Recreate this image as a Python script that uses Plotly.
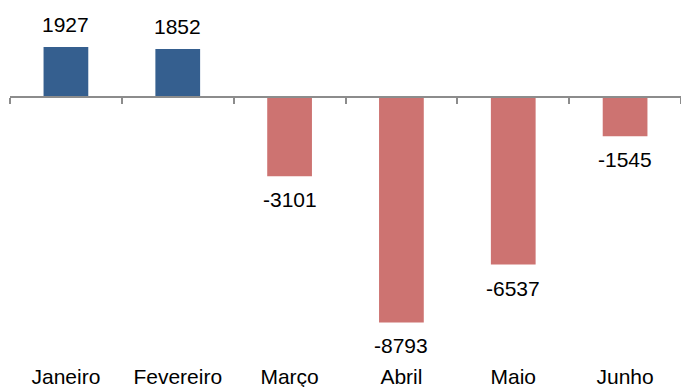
import plotly.graph_objects as go

# Monthly balance
months = ["Janeiro", "Fevereiro", "Março", "Abril", "Maio", "Junho"]
values = [1927, 1852, -3101, -8793, -6537, -1545]

POS_COLOR = "#355f8f"
NEG_COLOR = "#cd7371"
FONT = "Liberation Sans, Arial, sans-serif"

y_range = [-10060, 3760]
x_idx = list(range(len(months)))

fig = go.Figure()
fig.add_trace(go.Bar(
    x=x_idx,
    y=values,
    width=0.4,
    marker=dict(color=[POS_COLOR if v >= 0 else NEG_COLOR for v in values], line=dict(width=0)),
    hoverinfo="skip",
))

# value labels beyond each bar end
for i, v in zip(x_idx, values):
    fig.add_annotation(
        x=i, y=v, text=str(v), showarrow=False,
        yanchor="bottom" if v >= 0 else "top",
        yshift=9 if v >= 0 else -10,
        font=dict(family=FONT, size=21, color="#000000"),
    )

# zero line axis with boundary ticks
zero_pos = (0 - y_range[0]) / (y_range[1] - y_range[0])
boundaries = [i - 0.5 for i in range(len(months) + 1)]

fig.update_layout(
    width=681, height=387,
    margin=dict(l=10, r=0, t=0, b=32, autoexpand=False),
    paper_bgcolor="white", plot_bgcolor="white",
    showlegend=False,
    bargap=0.6,
    xaxis=dict(
        range=[-0.5, len(months) - 0.5],
        tickmode="array", tickvals=x_idx, ticktext=months,
        showline=False, showgrid=False, zeroline=False, automargin=False,
        ticks="", ticklabelstandoff=7,
        tickfont=dict(family=FONT, size=21, color="#000000"),
    ),
    xaxis2=dict(
        overlaying="x", anchor="free", position=zero_pos, side="bottom",
        range=[-0.5, len(months) - 0.5],
        tickmode="array", tickvals=boundaries, showticklabels=False,
        showline=True, linecolor="#8c8c8c", linewidth=2,
        ticks="outside", ticklen=6, tickwidth=2, tickcolor="#8c8c8c",
        showgrid=False, zeroline=False, automargin=False,
    ),
    yaxis=dict(range=y_range, visible=False, showgrid=False, zeroline=False, automargin=False),
)

# empty trace so the zero-line axis is drawn
fig.add_trace(go.Scatter(x=[], y=[], xaxis="x2", hoverinfo="skip"))

fig.write_html("out.html")
